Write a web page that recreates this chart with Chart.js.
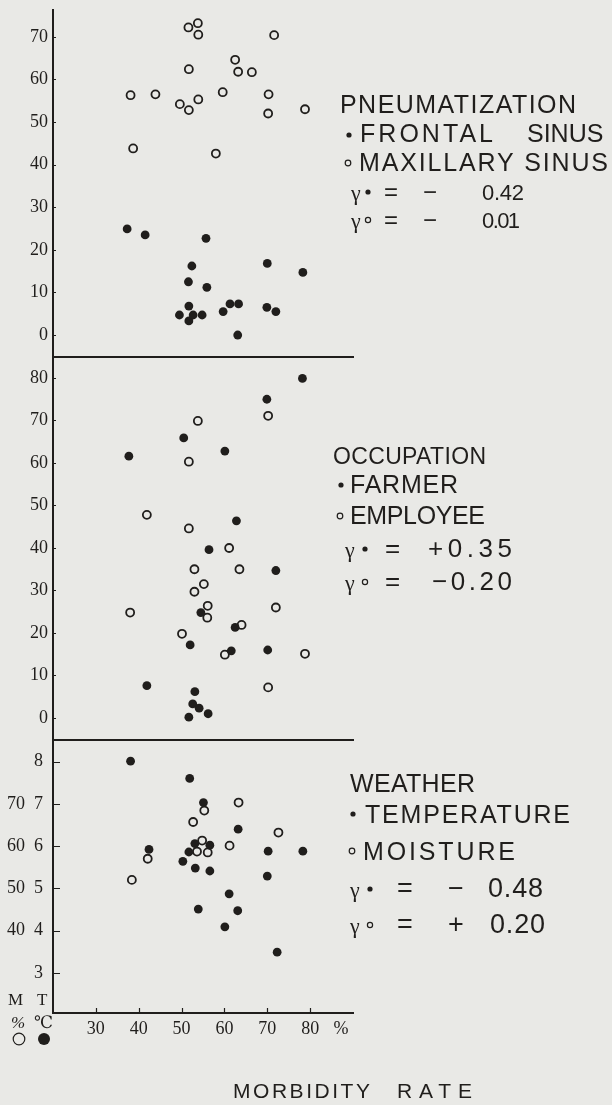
<!DOCTYPE html>
<html>
<head>
<meta charset="utf-8">
<script src="https://cdn.jsdelivr.net/npm/chart.js@4.4.0/dist/chart.umd.min.js"></script>
<style>
  html, body { margin: 0; padding: 0; background: #e9e9e6; }
  #wrap { position: relative; width: 612px; height: 1105px; overflow: hidden; }
  #wrap canvas { position: absolute; left: 0; top: 0; }
</style>
</head>
<body>
<div id="wrap">
  <canvas id="pneu" width="612" height="1105"></canvas>
  <canvas id="occu" width="612" height="1105"></canvas>
  <canvas id="weat" width="612" height="1105"></canvas>
</div>
<script>
// x: morbidity rate (%), shared by the three panels
const morbTicks = [30, 40, 50, 60, 70, 80];
const pctTick = 87.2; // where the "%" unit sits on the x axis

// panel 1 - pneumatization (%)
const pneuTicks = [0, 10, 20, 30, 40, 50, 60, 70];
const frontalX = [37.3, 41.5, 55.7, 52.4, 51.6, 55.9, 51.7, 49.5, 51.7, 52.7, 54.8, 59.7, 61.3, 63.3, 63.1, 70.0, 69.9, 72.0, 78.3];
const frontalY = [24.9, 23.5, 22.7, 16.2, 12.5, 11.2, 6.8, 4.7, 3.3, 4.7, 4.7, 5.5, 7.3, 7.3, 0.0, 16.8, 6.5, 5.5, 14.7];
const maxillaryX = [51.6, 53.8, 53.9, 71.6, 62.5, 63.2, 66.4, 51.7, 38.1, 43.9, 59.6, 53.9, 49.6, 51.7, 70.3, 70.2, 78.8, 38.7, 58.0];
const maxillaryY = [72.2, 73.2, 70.5, 70.4, 64.6, 61.8, 61.7, 62.4, 56.3, 56.5, 57.0, 55.3, 54.2, 52.8, 56.5, 52.0, 53.0, 43.8, 42.6];

// panel 2 - occupation (%)
const occuTicks = [0, 10, 20, 30, 40, 50, 60, 70, 80];
const farmerX = [78.2, 69.9, 50.5, 37.7, 60.1, 62.8, 56.4, 72.0, 54.5, 52.0, 62.5, 61.6, 70.1, 41.9, 53.1, 52.6, 54.1, 56.2, 51.7];
const farmerY = [79.9, 75.0, 65.9, 61.6, 62.8, 46.4, 39.6, 34.7, 24.8, 17.2, 21.3, 15.8, 16.0, 7.6, 6.2, 3.3, 2.3, 1.0, 0.2];
const employeeX = [53.8, 70.2, 51.7, 41.9, 51.7, 61.1, 53.0, 63.5, 55.2, 53.0, 56.1, 56.0, 38.0, 72.0, 64.0, 50.1, 60.1, 78.8, 70.2];
const employeeY = [69.9, 71.1, 60.3, 47.8, 44.6, 40.0, 35.0, 35.0, 31.5, 29.7, 26.4, 23.6, 24.8, 26.0, 21.9, 19.8, 14.9, 15.1, 7.2];

// panel 3 - weather: temperature (C) and moisture (%)
const tempTicks = [3, 4, 5, 6, 7, 8];
const moistTicks = [40, 50, 60, 70];
const tempX = [38.1, 51.9, 55.1, 63.2, 42.4, 53.1, 51.7, 56.6, 50.3, 53.2, 56.6, 70.2, 78.3, 70.0, 61.1, 53.9, 63.1, 60.1, 72.3];
const tempY = [8.01, 7.60, 7.03, 6.40, 5.92, 6.06, 5.86, 6.02, 5.64, 5.48, 5.41, 5.88, 5.88, 5.29, 4.87, 4.51, 4.47, 4.09, 3.49];
const moistX = [63.3, 55.3, 52.7, 72.6, 54.8, 61.2, 53.6, 56.1, 42.1, 38.4];
const moistY = [70.3, 68.4, 65.7, 63.2, 61.3, 60.1, 58.7, 58.5, 57.0, 52.0];

const INK = '#201e1c';
const SANS = '"Liberation Sans", Arial, sans-serif';
const SERIF = '"Liberation Serif", "DejaVu Serif", serif';
const W = '25px ' + SANS;
const G = '22px ' + SERIF;

const pts = (xs, ys) => xs.map((x, i) => ({ x, y: ys[i] }));

const filled = (data, axis) => ({
  data, yAxisID: axis || 'y',
  pointRadius: 4.4, pointBackgroundColor: INK, pointBorderWidth: 0
});
const open = (data, axis) => ({
  data, yAxisID: axis || 'y',
  pointRadius: 4, pointBackgroundColor: 'rgba(0,0,0,0)', pointBorderColor: INK, pointBorderWidth: 1.8
});

// free text written on the figure
const notesPlugin = {
  id: 'notes',
  afterDraw(chart, args, opts) {
    const ctx = chart.ctx;
    ctx.save();
    ctx.fillStyle = INK;
    ctx.strokeStyle = INK;
    ctx.textBaseline = 'alphabetic';
    for (const n of opts.items || []) {
      if (n.dot || n.ring) {
        ctx.beginPath();
        ctx.arc(n.x, n.y, n.r, 0, Math.PI * 2);
        if (n.dot) ctx.fill();
        else { ctx.lineWidth = n.lw || 1.2; ctx.stroke(); }
        continue;
      }
      ctx.font = n.f || W;
      ctx.letterSpacing = '0px';
      if (n.w && n.t.length > 1) {
        const gap = (n.w - ctx.measureText(n.t).width) / (n.t.length - 1);
        ctx.letterSpacing = gap.toFixed(2) + 'px';
      }
      ctx.fillText(n.t, n.x, n.y);
      ctx.letterSpacing = '0px';
    }
    ctx.restore();
  }
};

// short tick marks pointing into the plot
const innerTicks = {
  id: 'innerTicks',
  afterDraw(chart, args, opts) {
    const { ctx, chartArea } = chart;
    ctx.save();
    ctx.strokeStyle = INK;
    ctx.lineWidth = opts.width || 1;
    ctx.beginPath();
    const ys = chart.scales[opts.yAxis];
    (opts.yTicks || []).forEach(v => {
      const y = Math.round(ys.getPixelForValue(v)) + 0.5;
      ctx.moveTo(chartArea.left, y);
      ctx.lineTo(chartArea.left + opts.len, y);
    });
    if (opts.xTicks) {
      const xs = chart.scales.x;
      opts.xTicks.forEach(v => {
        const x = Math.round(xs.getPixelForValue(v)) + 0.5;
        ctx.moveTo(x, chartArea.bottom);
        ctx.lineTo(x, chartArea.bottom - opts.xLen);
      });
    }
    ctx.stroke();
    ctx.restore();
  }
};

const setTicks = arr => s => { s.ticks = arr.map(v => ({ value: v })); };
const noPad = s => { s.paddingTop = 0; s.paddingBottom = 0; s.paddingLeft = 0; s.paddingRight = 0; };

const yAxis = (min, max, ticks, extra) => Object.assign({
  type: 'linear', position: 'left', min, max,
  afterBuildTicks: setTicks(ticks),
  afterFit: s => { s.width = 53; noPad(s); },
  ticks: { color: INK, font: { family: SERIF, size: 18 }, padding: 5 },
  grid: { display: false, drawTicks: false },
  border: { display: true, color: INK, width: 2 }
}, extra || {});

const hiddenX = {
  type: 'linear', min: 20, max: 90,
  ticks: { display: false }, grid: { display: false, drawTicks: false },
  border: { display: true, color: INK, width: 2 },
  afterFit: s => { s.height = 0; noPad(s); }
};

function panel(id, datasets, scales, top, bottom, notes, marks) {
  return new Chart(document.getElementById(id), {
    type: 'scatter',
    data: { datasets },
    options: {
      responsive: false,
      animation: false,
      layout: { padding: { top, bottom, left: 0, right: 259 } },
      plugins: {
        legend: { display: false },
        tooltip: { enabled: false },
        notes: { items: notes },
        innerTicks: marks
      },
      scales
    },
    plugins: [notesPlugin, innerTicks]
  });
}

const N1 = '22px ' + SANS;
panel('pneu',
  [filled(pts(frontalX, frontalY)), open(pts(maxillaryX, maxillaryY))],
  { x: hiddenX, y: yAxis(-5.16, 76.3, pneuTicks) },
  10, 748,
  [
    { t: 'PNEUMATIZATION', x: 340, y: 113, w: 236 },
    { dot: true, x: 349, y: 135, r: 2.6 },
    { t: 'FRONTAL', x: 360, y: 142, w: 133 },
    { t: 'SINUS', x: 527, y: 142 },
    { ring: true, x: 348, y: 163, r: 2.8 },
    { t: 'MAXILLARY SINUS', x: 359, y: 171, w: 249 },
    { t: 'γ', x: 351, y: 200, f: G },
    { dot: true, x: 368, y: 192, r: 2.6 },
    { t: '=', x: 384, y: 200, f: '24px ' + SANS },
    { t: '−', x: 423, y: 200, f: '24px ' + SANS },
    { t: '0.42', x: 482, y: 200, w: 42, f: N1 },
    { t: 'γ', x: 351, y: 228, f: G },
    { ring: true, x: 368, y: 220, r: 2.6 },
    { t: '=', x: 384, y: 228, f: '24px ' + SANS },
    { t: '−', x: 423, y: 228, f: '24px ' + SANS },
    { t: '0.01', x: 482, y: 228, w: 38, f: N1 }
  ],
  { yAxis: 'y', yTicks: pneuTicks, len: 3, width: 1 }
);

panel('occu',
  [filled(pts(farmerX, farmerY)), open(pts(employeeX, employeeY))],
  { x: hiddenX, y: yAxis(-5.18, 84.94, occuTicks) },
  357, 365,
  [
    { t: 'OCCUPATION', x: 333, y: 464, w: 153, f: '23px ' + SANS },
    { dot: true, x: 341, y: 485, r: 2.6 },
    { t: 'FARMER', x: 350, y: 493, w: 108 },
    { ring: true, x: 340, y: 516, r: 2.8 },
    { t: 'EMPLOYEE', x: 350, y: 524, w: 135 },
    { t: 'γ', x: 345, y: 557, f: G },
    { dot: true, x: 365, y: 549, r: 2.6 },
    { t: '=', x: 385, y: 557, f: '26px ' + SANS },
    { t: '+0.35', x: 428, y: 557, w: 84, f: '26px ' + SANS },
    { t: 'γ', x: 345, y: 590, f: G },
    { ring: true, x: 365, y: 582, r: 2.6 },
    { t: '=', x: 385, y: 590, f: '26px ' + SANS },
    { t: '−0.20', x: 432, y: 590, w: 80, f: '26px ' + SANS }
  ],
  { yAxis: 'y', yTicks: occuTicks, len: 3, width: 1 }
);

// temperature axis carries both label columns (moisture % = 10 x temperature)
const weatherLabel = v => {
  const m = Math.round(v * 10);
  return moistTicks.includes(m) ? m + '\u2002' + v : String(v);
};

panel('weat',
  [filled(pts(tempX, tempY), 'y'), open(pts(moistX, moistY), 'ym')],
  {
    x: {
      type: 'linear', position: 'bottom', min: 20, max: 90,
      afterBuildTicks: s => { s.ticks = morbTicks.concat([pctTick]).map(v => ({ value: v })); },
      afterFit: s => { s.height = 40; noPad(s); },
      ticks: {
        color: INK, font: { family: SERIF, size: 18 }, padding: 5,
        autoSkip: false, maxRotation: 0,
        callback: v => v === pctTick ? '%' : v
      },
      grid: { display: false, drawTicks: false },
      border: { display: true, color: INK, width: 2 }
    },
    y: yAxis(2.05, 8.51, tempTicks, {
      ticks: { color: INK, font: { family: SERIF, size: 18 }, padding: 10, callback: weatherLabel }
    }),
    ym: { type: 'linear', display: false, min: 20.5, max: 85.1 }
  },
  740, 52,
  [
    { t: 'WEATHER', x: 350, y: 792, w: 125 },
    { dot: true, x: 353, y: 814, r: 2.6 },
    { t: 'TEMPERATURE', x: 365, y: 823, w: 205 },
    { ring: true, x: 352, y: 851, r: 2.8 },
    { t: 'MOISTURE', x: 363, y: 860, w: 152 },
    { t: 'γ', x: 350, y: 897, f: G },
    { dot: true, x: 370, y: 889, r: 2.6 },
    { t: '=', x: 397, y: 897, f: '27px ' + SANS },
    { t: '−', x: 448, y: 897, f: '27px ' + SANS },
    { t: '0.48', x: 488, y: 897, w: 55, f: '27px ' + SANS },
    { t: 'γ', x: 350, y: 933, f: G },
    { ring: true, x: 370, y: 925, r: 2.6 },
    { t: '=', x: 397, y: 933, f: '27px ' + SANS },
    { t: '+', x: 448, y: 933, f: '27px ' + SANS },
    { t: '0.20', x: 490, y: 933, w: 55, f: '27px ' + SANS },
    { t: 'M', x: 8, y: 1005, f: '17px ' + SERIF },
    { t: 'T', x: 37, y: 1005, f: '17px ' + SERIF },
    { t: '%', x: 11, y: 1028, f: 'italic 17px ' + SERIF },
    { t: '℃', x: 34, y: 1028, f: '17px ' + SERIF },
    { ring: true, x: 19, y: 1039, r: 5.8, lw: 1.2 },
    { dot: true, x: 44, y: 1039, r: 6 },
    { t: 'MORBIDITY', x: 233, y: 1098, w: 137, f: '21px ' + SANS },
    { t: 'RATE', x: 397, y: 1098, w: 75, f: '21px ' + SANS }
  ],
  { yAxis: 'y', yTicks: tempTicks, len: 7, width: 1.2, xTicks: morbTicks, xLen: 5 }
);
</script>
</body>
</html>
